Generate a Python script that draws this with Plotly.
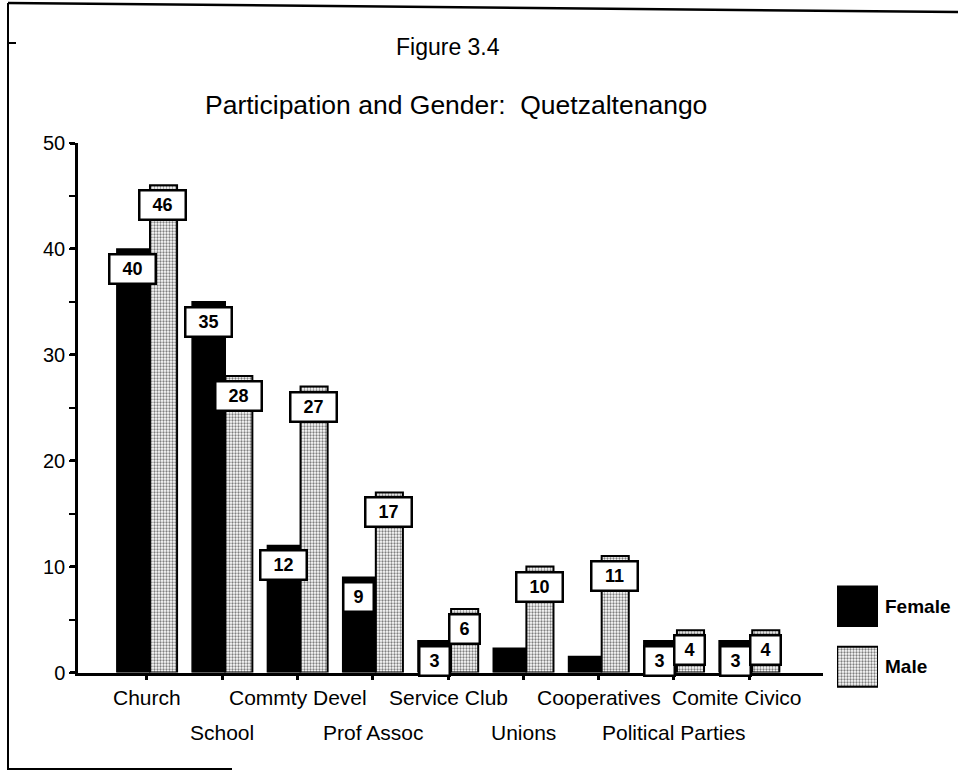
import plotly.graph_objects as go

categories = ["Church", "School", "Commty Devel", "Prof Assoc", "Service Club",
              "Unions", "Cooperatives", "Political Parties", "Comite Civico"]
female = [40, 35, 12, 9, 3, 2.3, 1.5, 3, 3]
male = [46, 28, 27, 17, 6, 10, 11, 4, 4]
female_labels = ["40", "35", "12", "9", "3", "", "", "3", "3"]
male_labels = ["46", "28", "27", "17", "6", "10", "11", "4", "4"]
series_names = ["Female", "Male"]
y_ticks = [0, 10, 20, 30, 40, 50]

FONT = "Liberation Sans, Arial, Helvetica, sans-serif"
W, H = 958, 771
ML, MR, MT, MB = 78, 0, 143, 60
PW, PH = W - ML - MR, H - MT - MB


def pxx(p):
    return (p - ML) / PW


def pxy(p):
    return (H - MB - p) / PH


male_marker = dict(color="white", line=dict(color="black", width=2),
                   pattern=dict(shape=".", fgcolor="black", bgcolor="white",
                                size=3, solidity=0.45))
female_marker = dict(color="black", line=dict(color="black", width=1.5))

fig = go.Figure()
fig.add_trace(go.Bar(
    x=categories, y=female, name=series_names[0],
    offset=-0.40, width=0.44, marker=female_marker, showlegend=False,
))
fig.add_trace(go.Bar(
    x=categories, y=male, name=series_names[1],
    offset=0.04, width=0.36, marker=male_marker, showlegend=False,
))

# legend swatches drawn as bars on a small auxiliary axis pair
fig.add_trace(go.Bar(
    y=[series_names[0]], x=[1], orientation="h", xaxis="x2", yaxis="y2",
    marker=female_marker, width=0.66, showlegend=False, hoverinfo="skip",
))
fig.add_trace(go.Bar(
    y=[series_names[1]], x=[1], orientation="h", xaxis="x2", yaxis="y2",
    marker=male_marker, width=0.66, showlegend=False, hoverinfo="skip",
))

annotations = []
for i, c in enumerate(categories):
    for lab, val, xs in ((female_labels[i], female[i], -14),
                         (male_labels[i], male[i], 16)):
        if not lab:
            continue
        annotations.append(dict(
            x=c, y=val, xref="x", yref="y", text="<b>%s</b>" % lab,
            showarrow=False, yanchor="top", xanchor="center",
            xshift=xs, yshift=-4,
            font=dict(family=FONT, size=18, color="black"),
            bgcolor="white", bordercolor="black", borderwidth=2.5,
            borderpad=3, width=38 if len(lab) > 1 else 22, height=21,
        ))

for i, c in enumerate(categories):
    annotations.append(dict(
        x=c, y=pxy(697) if i % 2 == 0 else pxy(732), xref="x", yref="paper",
        text=c, showarrow=False, yanchor="middle", xanchor="center",
        xshift=-12 if i == len(categories) - 1 else 0,
        font=dict(family=FONT, size=21, color="black"),
    ))

annotations.append(dict(x=pxx(448), y=pxy(47), xref="paper", yref="paper",
                        text="Figure 3.4", showarrow=False,
                        xanchor="center", yanchor="middle",
                        font=dict(family=FONT, size=23, color="black")))
annotations.append(dict(x=pxx(456), y=pxy(105), xref="paper", yref="paper",
                        text="Participation and Gender:  Quetzaltenango",
                        showarrow=False, xanchor="center", yanchor="middle",
                        font=dict(family=FONT, size=26.5, color="black")))

shapes = [
    dict(type="line", xref="paper", yref="paper", x0=pxx(8), y0=pxy(3),
         x1=pxx(8), y1=pxy(770), line=dict(color="black", width=2)),
    dict(type="line", xref="paper", yref="paper", x0=pxx(8), y0=pxy(3),
         x1=pxx(958), y1=pxy(12), line=dict(color="black", width=2.5)),
    dict(type="line", xref="paper", yref="paper", x0=pxx(8), y0=pxy(769),
         x1=pxx(232), y1=pxy(769), line=dict(color="black", width=2)),
    dict(type="line", xref="paper", yref="paper", x0=pxx(8), y0=pxy(43),
         x1=pxx(16), y1=pxy(43), line=dict(color="black", width=2)),
]

fig.update_layout(
    width=W, height=H,
    margin=dict(l=ML, r=MR, t=MT, b=MB, pad=0),
    paper_bgcolor="white", plot_bgcolor="white",
    barmode="overlay",
    font=dict(family=FONT, color="black"),
    showlegend=False,
    annotations=annotations,
    shapes=shapes,
    xaxis=dict(
        domain=[0, pxx(823)],
        range=[-0.916, 8.98], showgrid=False, zeroline=False,
        showline=True, linecolor="black", linewidth=2.5,
        ticks="outside", ticklen=5, tickwidth=3, tickcolor="black",
        showticklabels=False,
    ),
    yaxis=dict(
        domain=[pxy(672.5), 1],
        range=[0, 50], tickvals=y_ticks, showgrid=False, zeroline=False,
        showline=True, linecolor="black", linewidth=2.5,
        ticks="outside", ticklen=5, tickwidth=3, tickcolor="black",
        minor=dict(dtick=5, ticks="outside", ticklen=6, tickwidth=2,
                   tickcolor="black"),
        tickfont=dict(family=FONT, size=20, color="black"),
        ticklabelstandoff=1,
    ),
    xaxis2=dict(domain=[pxx(837), pxx(878)], range=[0, 1], anchor="y2",
                visible=False, fixedrange=True),
    yaxis2=dict(domain=[pxy(697), pxy(576)], anchor="free", position=pxx(878),
                side="right", categoryorder="array",
                categoryarray=series_names[::-1], showgrid=False,
                zeroline=False, showline=False, ticks="",
                ticklabelstandoff=6, fixedrange=True,
                tickfont=dict(family=FONT, size=19, color="black",
                              weight="bold")),
)

fig.write_html(
    "out.html",
    config={"displayModeBar": False},
    post_script="document.body.style.margin='0px';"
                "document.body.style.overflow='hidden';",
)
